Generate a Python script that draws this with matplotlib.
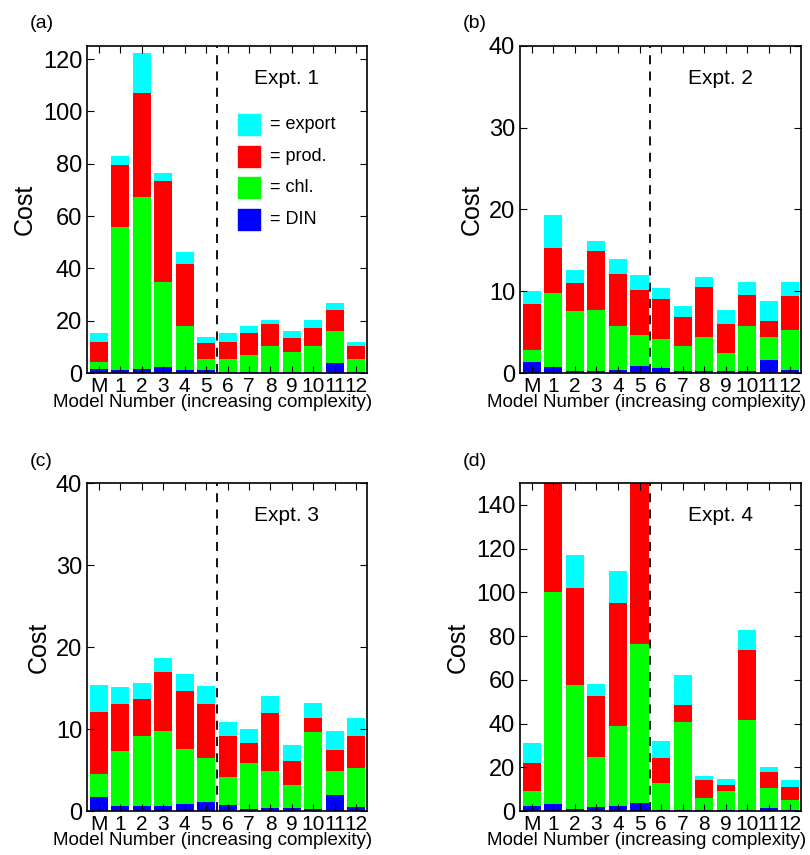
import numpy as np
import matplotlib
matplotlib.use('Agg')
import matplotlib.pyplot as plt
from matplotlib.patches import Rectangle

plt.rcParams['font.family'] = ['Liberation Sans', 'DejaVu Sans']

labels = ['M', '1', '2', '3', '4', '5', '6', '7', '8', '9', '10', '11', '12']

# cumulative tops: DIN, chl, prod, export
a_din = [1.7, 1.3, 1.7, 2.4, 1.3, 1.3, 0.5, 0.5, 0.5, 0.3, 0.5, 3.9, 0.5]
a_chl = [4.3, 55.8, 67.3, 34.9, 18, 5.5, 5.5, 7, 10.4, 8.1, 10.4, 16.2, 5.5]
a_prod = [12, 79.5, 107, 73.4, 41.7, 11.6, 12, 15.4, 18.8, 13.5, 17.3, 24.2, 10.4]
a_exp = [15.4, 83, 122.3, 76.5, 46.3, 13.9, 15.4, 18, 20.4, 16.2, 20.4, 26.8, 12]

b_din = [1.3, 0.7, 0.3, 0.3, 0.4, 0.8, 0.6, 0.2, 0.3, 0.3, 0.3, 1.6, 0.4]
b_chl = [2.8, 9.8, 7.6, 7.7, 5.7, 4.6, 4.1, 3.3, 4.4, 2.5, 5.7, 4.4, 5.3]
b_prod = [8.5, 15.3, 11, 14.9, 12.1, 10.1, 9, 6.8, 10.5, 6, 9.5, 6.4, 9.4]
b_exp = [10, 19.3, 12.6, 16.1, 13.9, 12, 10.4, 8.2, 11.7, 7.7, 11.1, 8.8, 11.1]

c_din = [1.7, 0.6, 0.6, 0.6, 0.9, 1.1, 0.7, 0.2, 0.4, 0.4, 0.2, 2.0, 0.5]
c_chl = [4.5, 7.3, 9.1, 9.8, 7.6, 6.5, 4.2, 5.9, 4.9, 3.2, 9.6, 4.9, 5.3]
c_prod = [12.1, 13, 13.6, 17, 14.6, 13, 9.1, 8.3, 12, 6.1, 11.3, 7.5, 9.1]
c_exp = [15.4, 15.1, 15.6, 18.6, 16.7, 15.2, 10.8, 10, 14, 8, 13.2, 9.7, 11.4]

d_din = [2.4, 3.4, 1.1, 2.0, 2.4, 3.8, 0.6, 0.3, 0.3, 0.3, 0.6, 1.5, 0.3]
d_chl = [9.3, 100, 57.4, 24.9, 39.1, 76.6, 13, 40.9, 6.1, 9.3, 41.4, 10.7, 5.2]
d_prod = [22.1, 170, 101.8, 52.4, 95, 170, 24.4, 48.7, 14.4, 12.1, 73.4, 18, 11.1]
d_exp = [31.3, 175, 117, 57.9, 109.6, 175, 31.8, 62.4, 16.2, 14.8, 83, 20.3, 14.4]

colors = ['#0000ff', '#00ff00', '#ff0000', '#00ffff']
names = ['= DIN', '= chl.', '= prod.', '= export']

panels = [
    ('(a)', 'Expt. 1', [a_din, a_chl, a_prod, a_exp], 125, [0, 20, 40, 60, 80, 100, 120], (87, 367, 46, 373)),
    ('(b)', 'Expt. 2', [b_din, b_chl, b_prod, b_exp], 40, [0, 10, 20, 30, 40], (520, 801, 46, 373)),
    ('(c)', 'Expt. 3', [c_din, c_chl, c_prod, c_exp], 40, [0, 10, 20, 30, 40], (87, 367, 483, 811)),
    ('(d)', 'Expt. 4', [d_din, d_chl, d_prod, d_exp], 150, [0, 20, 40, 60, 80, 100, 120, 140], (520, 801, 483, 811)),
]

W, H = 810, 855
fig = plt.figure(figsize=(W / 100, H / 100), dpi=100)

for tag, expt, tops, ymax, yt, (l, r, t, b) in panels:
    ax = fig.add_axes([l / W, 1 - b / H, (r - l) / W, (b - t) / H])
    x = np.arange(len(labels))
    prev = np.zeros(len(labels))
    for top, col in zip(tops, colors):
        top = np.array(top, dtype=float)
        ax.bar(x, top - prev, bottom=prev, width=0.84, color=col, linewidth=0)
        prev = top
    ax.axvline(5.5, color='black', linestyle=(0, (5, 4)), linewidth=1.3)
    ax.set_xlim(-0.55, 12.5)
    ax.set_ylim(0, ymax)
    ax.set_xticks(x)
    ax.set_xticklabels(labels, fontsize=15)
    ax.set_yticks(yt)
    ax.tick_params(axis='y', labelsize=17, direction='in', right=True, length=5)
    ax.tick_params(axis='x', direction='in', top=True, length=5, pad=3)
    ax.set_xlabel('Model Number (increasing complexity)', fontsize=13.5, labelpad=0)
    ax.xaxis.set_label_coords(0.45, -0.065)
    ax.set_ylabel('Cost', fontsize=18)
    for s in ax.spines.values():
        s.set_linewidth(1.2)
    ax.text(0.83, 0.9, expt, transform=ax.transAxes, ha='right', va='center', fontsize=15)
    fig.text((l - 57) / W, 1 - 24 / H if t < 100 else 1 - 461 / H, tag, fontsize=14, ha='left', va='center')
    if tag == '(a)':
        for i, (col, nm) in enumerate(zip(colors[::-1], names[::-1])):
            yy = 0.76 - i * 0.097
            ax.add_patch(Rectangle((0.54, yy - 0.032), 0.078, 0.064, transform=ax.transAxes,
                                   color=col, clip_on=False))
            ax.text(0.655, yy, nm, transform=ax.transAxes, va='center', fontsize=13)

fig.savefig('out.png', dpi=100)
